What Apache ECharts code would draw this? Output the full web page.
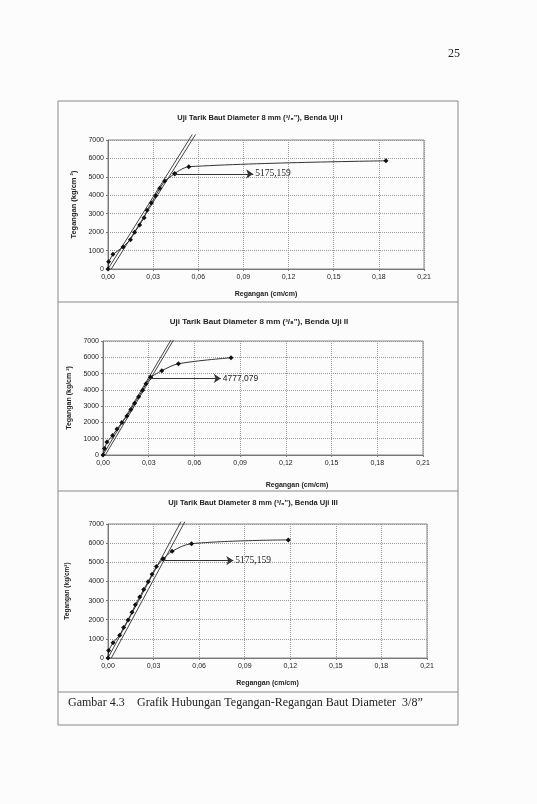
<!DOCTYPE html>
<html>
<head>
<meta charset="utf-8">
<script src="https://cdn.jsdelivr.net/npm/echarts@6/dist/echarts.min.js"></script>
<style>
  html, body { margin: 0; padding: 0; background: #fcfcfc; }
  #main { width: 537px; height: 804px; }
</style>
</head>
<body>
<div id="main"></div>
<script>
// nilai (regangan cm/cm, tegangan kg/cm2)
var xTicks = ['0,00', '0,03', '0,06', '0,09', '0,12', '0,15', '0,18', '0,21'];
var yTicks = [0, 1000, 2000, 3000, 4000, 5000, 6000, 7000];

var titles = [
  'Uji Tarik Baut Diameter 8 mm (³/₈"), Benda Uji I',
  'Uji Tarik Baut Diameter 8 mm (³/₈"), Benda Uji II',
  'Uji Tarik Baut Diameter 8 mm (³/₈"), Benda Uji III'
];

// Benda uji I
var strain1 = [0, 0.0004, 0.0033, 0.0100, 0.0149, 0.0177, 0.0210, 0.0240, 0.0260, 0.0288, 0.0317, 0.0344, 0.0377, 0.0443];
var stress1 = [0, 398, 796, 1194, 1592, 1990, 2389, 2787, 3185, 3583, 3981, 4379, 4777, 5175];
var strain1p = [0.0443, 0.0537, 0.1847];
var stress1p = [5175, 5550, 5870];

// Benda uji II
var strain2 = [0, 0.0010, 0.0026, 0.0063, 0.0092, 0.0124, 0.0157, 0.0183, 0.0207, 0.0234, 0.0260, 0.0282, 0.0312];
var stress2 = [0, 398, 796, 1194, 1592, 1990, 2389, 2787, 3185, 3583, 3981, 4379, 4777];
var strain2p = [0.0312, 0.0386, 0.0495, 0.0840];
var stress2p = [4777, 5175, 5600, 5970];

// Benda uji III
var strain3 = [0, 0.0004, 0.0033, 0.0077, 0.0103, 0.0132, 0.0158, 0.0180, 0.0209, 0.0235, 0.0264, 0.0290, 0.0319, 0.0363];
var stress3 = [0, 398, 796, 1194, 1592, 1990, 2389, 2787, 3185, 3583, 3981, 4379, 4777, 5175];
var strain3p = [0.0363, 0.0422, 0.0550, 0.1187];
var stress3p = [5175, 5573, 5971, 6170];

// garis modulus elastis (dua garis sejajar): [x awal, x akhir, y akhir]
var modA = [[0, 0.0560, 7300], [0, 0.0445, 7050], [0, 0.0480, 7120]];
var modB = [[0.0022, 0.0582, 7300], [0.0015, 0.0462, 7050], [0.0022, 0.0506, 7120]];

// panah tegangan leleh: [x awal, x akhir, y]
var yieldArrow = [[0.0443, 0.0965, 5160], [0.0306, 0.0773, 4700], [0.0363, 0.0825, 5090]];
var yieldLabel = ['5175,159', '4777,079', '5175,159'];

var grids = [
  { left: 108, top: 140, width: 316, height: 129 },
  { left: 103, top: 341, width: 320, height: 114 },
  { left: 108, top: 524, width: 319, height: 134 }
];
var titlePos = [[260, 118], [259, 322], [253, 503]];

function pairs(xs, ys) {
  return xs.map(function (x, i) { return [x, ys[i]]; });
}

var elastic = [pairs(strain1, stress1), pairs(strain2, stress2), pairs(strain3, stress3)];
var plastic = [pairs(strain1p, stress1p), pairs(strain2p, stress2p), pairs(strain3p, stress3p)];

var sans = 'Liberation Sans';
var serif = 'Liberation Serif';

var xAxes = [], yAxes = [], series = [];
grids.forEach(function (g, i) {
  xAxes.push({
    gridIndex: i, type: 'value', min: 0, max: 0.21, interval: 0.03,
    name: 'Regangan (cm/cm)', nameLocation: 'middle', nameGap: i === 1 ? 27 : 22,
    nameTextStyle: { fontFamily: sans, fontWeight: 'bold', fontSize: 7, color: '#222',
      padding: i === 1 ? [0, 0, 0, 68] : 0 },
    axisLine: { show: true, lineStyle: { color: '#777' } },
    axisTick: { show: true, length: 2, lineStyle: { color: '#777' } },
    axisLabel: { fontFamily: sans, fontSize: 7, color: '#222', margin: 5,
      formatter: function (v) { return xTicks[Math.round(v / 0.03)]; } },
    splitLine: { show: true, lineStyle: { type: 'dotted', color: '#999' } }
  });
  yAxes.push({
    gridIndex: i, type: 'value', min: yTicks[0], max: yTicks[yTicks.length - 1], interval: 1000,
    name: i === 2 ? 'Tegangan (kg/cm²)' : 'Tegangan (kg/cm ²)',
    nameLocation: 'middle', nameRotate: 90, nameGap: [29, 26, 37][i],
    nameTextStyle: { fontFamily: sans, fontWeight: 'bold', fontSize: [7.5, 7, 6.5][i], color: '#222' },
    axisLine: { show: true, lineStyle: { color: '#777' } },
    axisTick: { show: true, length: 2, lineStyle: { color: '#777' } },
    axisLabel: { fontFamily: sans, fontSize: 7, color: '#222', margin: 4,
      formatter: function (v) { return String(v); } },
    splitLine: { show: true, lineStyle: { type: 'dotted', color: '#999' } }
  });

  series.push({
    type: 'line', xAxisIndex: i, yAxisIndex: i, clip: false, silent: true,
    showSymbol: false, lineStyle: { color: '#444', width: 1 },
    data: [[modA[i][0], 0], [modA[i][1], modA[i][2]]]
  });
  series.push({
    type: 'line', xAxisIndex: i, yAxisIndex: i, clip: false, silent: true,
    showSymbol: false, lineStyle: { color: '#444', width: 1 },
    data: [[modB[i][0], 0], [modB[i][1], modB[i][2]]],
    markLine: {
      silent: true, symbol: ['none', 'arrow'], symbolSize: 7,
      lineStyle: { type: 'solid', color: '#333', width: 1 },
      itemStyle: { color: '#333' },
      label: {
        show: true, position: 'end', distance: 2, formatter: yieldLabel[i],
        fontFamily: i === 1 ? sans : serif, fontSize: i === 1 ? 8.5 : 9.5, color: '#222'
      },
      data: [[{ coord: [yieldArrow[i][0], yieldArrow[i][2]] }, { coord: [yieldArrow[i][1], yieldArrow[i][2]] }]]
    }
  });
  series.push({
    type: 'line', xAxisIndex: i, yAxisIndex: i, silent: true,
    symbol: 'diamond', symbolSize: 5, itemStyle: { color: '#111' },
    lineStyle: { color: '#333', width: 1 },
    data: elastic[i]
  });
  series.push({
    type: 'line', xAxisIndex: i, yAxisIndex: i, silent: true, smooth: 0.35,
    symbol: 'diamond', symbolSize: 5, itemStyle: { color: '#111' },
    lineStyle: { color: '#333', width: 1 },
    data: plastic[i]
  });
});

var graphics = [
  { type: 'rect', shape: { x: 58, y: 101, width: 400, height: 624 }, silent: true,
    style: { fill: 'none', stroke: '#888', lineWidth: 1 } },
  { type: 'line', shape: { x1: 58, y1: 302, x2: 458, y2: 302 }, silent: true, style: { stroke: '#888', lineWidth: 1 } },
  { type: 'line', shape: { x1: 58, y1: 491, x2: 458, y2: 491 }, silent: true, style: { stroke: '#888', lineWidth: 1 } },
  { type: 'line', shape: { x1: 58, y1: 692, x2: 458, y2: 692 }, silent: true, style: { stroke: '#888', lineWidth: 1 } },
  { type: 'text', x: 448, y: 48, silent: true,
    style: { text: '25', fontFamily: serif, fontSize: 12, fill: '#222' } },
  { type: 'text', x: 68, y: 703, silent: true,
    style: { text: 'Gambar 4.3', fontFamily: serif, fontSize: 12, fill: '#222', textVerticalAlign: 'middle' } },
  { type: 'text', x: 137, y: 703, silent: true,
    style: { text: 'Grafik Hubungan Tegangan-Regangan Baut Diameter  3/8”', fontFamily: serif, fontSize: 12,
      fill: '#222', textVerticalAlign: 'middle' } }
];
titles.forEach(function (t, i) {
  graphics.push({
    type: 'text', x: titlePos[i][0], y: titlePos[i][1], silent: true,
    style: { text: t, fontFamily: sans, fontWeight: 'bold', fontSize: i === 1 ? 8 : 7.5, fill: '#222',
      textAlign: 'center', textVerticalAlign: 'middle' }
  });
});

var myChart = echarts.init(document.getElementById('main'));
myChart.setOption({
  animation: false,
  backgroundColor: '#fcfcfc',
  grid: grids.map(function (g) {
    return { left: g.left, top: g.top, width: g.width, height: g.height,
      show: true, borderColor: '#888', borderWidth: 1, backgroundColor: 'transparent' };
  }),
  xAxis: xAxes,
  yAxis: yAxes,
  series: series,
  graphic: graphics
});
</script>
</body>
</html>
